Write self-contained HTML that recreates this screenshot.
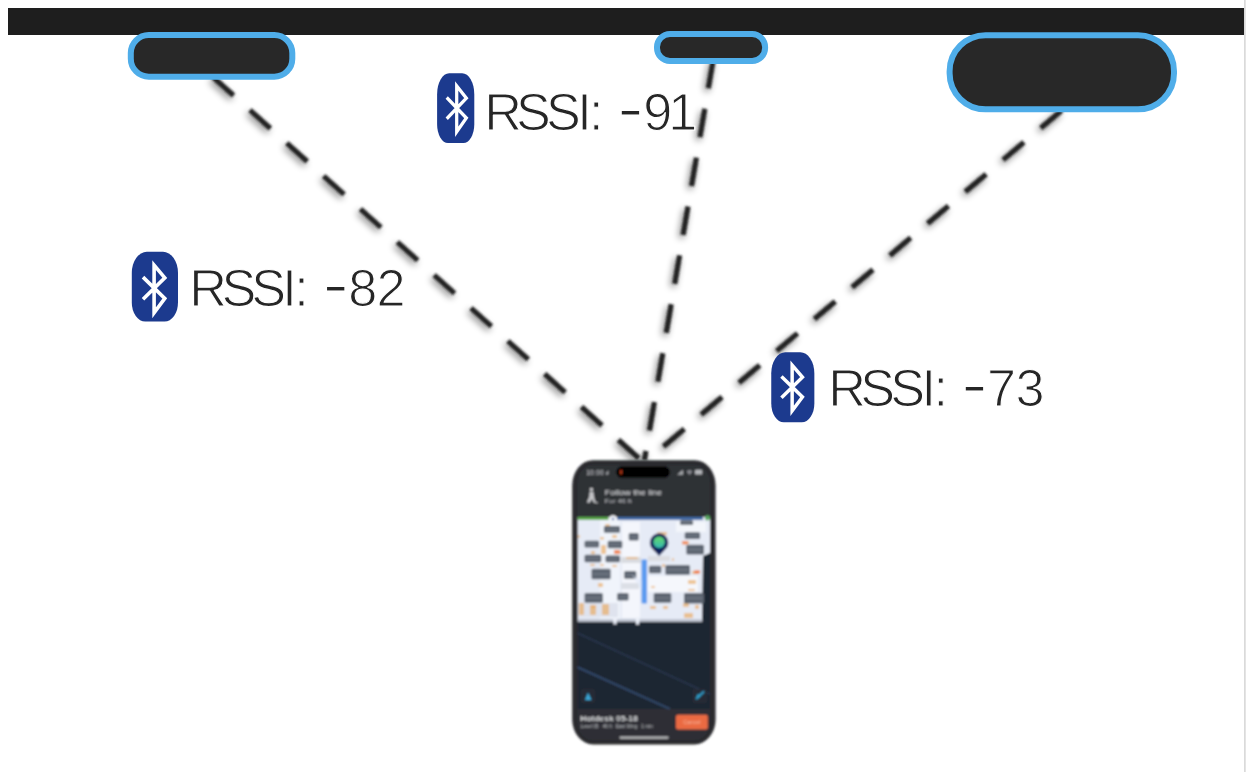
<!DOCTYPE html>
<html lang="en">
<head>
<meta charset="utf-8">
<title>RSSI trilateration</title>
<style>
html,body{margin:0;padding:0;background:#fff;width:1246px;height:772px;overflow:hidden}
svg{position:absolute;left:0;top:0;display:block}
.lbl{font-family:"Liberation Sans",sans-serif;font-size:52.2px;fill:#262626;stroke:#fff;stroke-width:1.15px;stroke-linejoin:round}
.hy{font-size:82.3px;stroke-width:2.76px;stroke-linejoin:miter}
.ph{font-family:"Liberation Sans",sans-serif}
</style>
</head>
<body>
<svg width="1246" height="772" viewBox="0 0 1246 772">
<defs>
  <filter id="ds" x="-20%" y="-20%" width="140%" height="140%">
    <feGaussianBlur in="SourceAlpha" stdDeviation="3.6" result="b"/>
    <feOffset in="b" dx="-2.5" dy="3" result="o"/>
    <feComponentTransfer in="o" result="s"><feFuncA type="linear" slope="0.5"/></feComponentTransfer>
    <feGaussianBlur in="SourceGraphic" stdDeviation="0.8" result="g"/>
    <feMerge><feMergeNode in="s"/><feMergeNode in="g"/></feMerge>
  </filter>
  <filter id="blur" x="-10%" y="-10%" width="120%" height="120%">
    <feGaussianBlur stdDeviation="1.05"/>
  </filter>
  <filter id="tb" x="-10%" y="-30%" width="120%" height="160%"><feGaussianBlur stdDeviation="0.55"/></filter>
  <clipPath id="scr"><rect x="577.5" y="465" width="132.5" height="275" rx="15" ry="18"/></clipPath>
  <linearGradient id="pg" x1="0" y1="0" x2="0" y2="1"><stop offset="0" stop-color="#63d96a"/><stop offset="1" stop-color="#35b9b4"/></linearGradient>
  <path id="bts" d="M15,0 L31.2,0 A15,21 0 0 1 46.2,21 L46.2,50.8 A13.5,19 0 0 1 32.7,69.8 L13.5,69.8 A13.5,19 0 0 1 0,50.8 L0,21 A15,21 0 0 1 15,0 Z" fill="#1c3a8e"/>
  <path id="btr" d="M11.2,25.3 L33,46.6 L22.3,61.1 L22.3,13.3 L33,26 L11.2,47.5" fill="none" stroke="#fff" stroke-width="3.6" stroke-miterlimit="10"/>
</defs>

<!-- right edge strip -->
<rect x="1244" y="0" width="1" height="772" fill="#dadada"/><rect x="1245" y="0" width="1" height="772" fill="#e4e4e4"/>

<!-- top bar -->
<rect x="8" y="8" width="1236" height="27" fill="#1e1e1e"/>

<!-- dashed links -->
<g filter="url(#ds)" stroke="#222" stroke-width="5.2" fill="none">
  <line x1="213.1" y1="77.2" x2="640" y2="459.4" stroke-dasharray="27.4 22.05"/>
  <line x1="713.2" y1="59.9" x2="644.4" y2="460" stroke-dasharray="28.8 20.8"/>
  <line x1="1061.6" y1="110.5" x2="646.6" y2="460.7" stroke-dasharray="27.2 22.17"/>
</g>

<!-- access points -->
<rect x="130.8" y="35" width="161.5" height="41.7" rx="18" fill="#282828" stroke="#4fade9" stroke-width="6"/>
<rect x="657" y="34" width="108.1" height="27" rx="13" fill="#282828" stroke="#4fade9" stroke-width="6"/>
<rect x="949.6" y="35.2" width="224.4" height="74.1" rx="36" fill="#282828" stroke="#4fade9" stroke-width="6"/>

<!-- labels -->
<g transform="translate(437.1,73.25)"><use href="#bts" transform="scale(0.805,1.0)"/><use href="#btr" transform="translate(-0.47,-0.07) scale(0.9,0.96)"/></g>
<text class="lbl" y="129.55" x="484.15 515.93 545.90 577.30 589.02 606.65">RSSI: <tspan class="hy" x="616.65" dy="5.83">-</tspan><tspan x="643.13 668.18" dy="-5.83">91</tspan></text>
<g transform="translate(131.8,251.8)"><use href="#bts" transform="scale(1,1)"/><use href="#btr" transform="translate(0,0) scale(1,1)"/></g>
<text class="lbl" y="305.65" x="189.25 221.43 251.20 282.27 294.17 311.95">RSSI: <tspan class="hy" x="321.95" dy="5.63">-</tspan><tspan x="348.27 376.40" dy="-5.63">82</tspan></text>
<g transform="translate(771.25,352.25)"><use href="#bts" transform="scale(0.933,1.004)"/><use href="#btr" transform="translate(-0.6,0.17) scale(0.964,0.955)"/></g>
<text class="lbl" y="405.55" x="828.32 860.32 890.20 921.45 933.50 950.80">RSSI: <tspan class="hy" x="960.80" dy="5.65">-</tspan><tspan x="987.00 1015.60" dy="-5.65">73</tspan></text>

<!-- phone -->
<g id="phone" filter="url(#blur)">
  <rect x="572.2" y="460.2" width="143.4" height="284.2" rx="21" ry="25" fill="#2a2b2f"/>
  <g clip-path="url(#scr)">
  <rect x="574" y="462" width="140" height="281" fill="#2e3035"/>
  <rect x="577.5" y="517" width="132.5" height="104.6" fill="#e6ebf6"/>
  <rect x="600" y="519" width="20" height="100" fill="#f3f6fc" opacity=".8"/>
  <rect x="622" y="522" width="18" height="96" fill="#f5f7fd" opacity=".9"/>
  <rect x="648" y="576" width="50" height="16" fill="#f6f8fd" opacity=".9"/>
  <rect x="676" y="522" width="30" height="10" fill="#f4f7fc" opacity=".9"/>
  <rect x="578" y="603" width="40" height="14" fill="#dfe3ee"/>
  <rect x="621" y="557" width="20" height="6" fill="#d9dbe0"/>
  <rect x="621" y="583" width="18" height="6" fill="#dcdfe6"/>
  <rect x="648" y="556" width="22" height="5" fill="#dcdde2"/>
  <rect x="577.5" y="517" width="31" height="3" fill="#5aa848"/>
  <rect x="617" y="517" width="86" height="3" fill="#3f6aa6"/>
  <circle cx="613" cy="518.6" r="3.4" fill="#f4f6fa"/><circle cx="613" cy="519" r="1.3" fill="#5a78b0"/>
  <circle cx="707.5" cy="517.8" r="2.6" fill="#58a860"/>
  <path d="M703,556 L710,553 L710,622 L702,622 Z" fill="#1f2532"/>
  <rect x="605" y="524" width="5" height="2" rx="1" fill="#e9a450" opacity=".6"/>
  <rect x="600" y="537" width="4" height="2.5" rx="1" fill="#e9a450" opacity=".6"/>
  <rect x="612" y="535" width="5" height="3" rx="1" fill="#e9a450" opacity=".6"/>
  <rect x="591" y="551" width="4" height="3" rx="1" fill="#e9a450" opacity=".6"/>
  <rect x="601" y="545" width="5" height="9" rx="1" fill="#e9a450" opacity=".6"/>
  <rect x="615" y="551" width="6" height="3" rx="1" fill="#e9a450" opacity=".6"/>
  <rect x="590" y="564" width="5" height="2" rx="1" fill="#e9a450" opacity=".6"/>
  <rect x="600" y="564" width="4" height="2" rx="1" fill="#e9a450" opacity=".6"/>
  <rect x="612" y="565" width="5" height="2" rx="1" fill="#e9a450" opacity=".6"/>
  <rect x="598" y="583" width="5" height="4" rx="1" fill="#e9a450" opacity=".6"/>
  <rect x="626" y="557" width="12" height="2" rx="1" fill="#e9a450" opacity=".6"/>
  <rect x="653" y="548" width="3" height="3" rx="1" fill="#e9a450" opacity=".6"/>
  <rect x="657" y="532" width="10" height="3" rx="1" fill="#e9a450" opacity=".6"/>
  <rect x="662" y="564" width="3" height="3" rx="1" fill="#e9a450" opacity=".6"/>
  <rect x="692" y="571" width="6" height="3" rx="1" fill="#e9a450" opacity=".6"/>
  <rect x="688" y="580" width="8" height="4" rx="1" fill="#e9a450" opacity=".6"/>
  <rect x="688" y="589" width="7" height="2" rx="1" fill="#e9a450" opacity=".6"/>
  <rect x="651" y="586" width="4" height="2" rx="1" fill="#e9a450" opacity=".6"/>
  <rect x="683" y="603" width="6" height="4" rx="1" fill="#e9a450" opacity=".6"/>
  <rect x="695" y="605" width="4" height="4" rx="1" fill="#e9a450" opacity=".6"/>
  <rect x="650" y="606" width="6" height="3" rx="1" fill="#e9a450" opacity=".6"/>
  <rect x="663" y="606" width="5" height="3" rx="1" fill="#e9a450" opacity=".6"/>
  <rect x="684" y="613" width="9" height="5" rx="1" fill="#e9a450" opacity=".6"/>
  <rect x="579" y="603" width="5" height="12" rx="1" fill="#e9a450" opacity=".6"/>
  <rect x="590" y="605" width="6" height="10" rx="1" fill="#e9a450" opacity=".6"/>
  <rect x="602" y="604" width="7" height="11" rx="1" fill="#e9a450" opacity=".6"/>
  <rect x="591" y="606" width="5" height="2" rx="1" fill="#e9a450" opacity=".6"/>
  <rect x="683" y="541" width="6" height="3" rx="1" fill="#e9a450" opacity=".6"/>
  <rect x="672" y="558" width="2" height="3" rx="1" fill="#e9a450" opacity=".6"/>
  <rect x="578" y="535" width="2" height="3" rx="1" fill="#e9a450" opacity=".6"/>
  <rect x="614" y="550" width="6" height="4" rx="1" fill="#f08a5a"/>
  <rect x="694" y="570.5" width="6" height="3" rx="1" fill="#f0783c"/>
  <rect x="682" y="541" width="6" height="3.5" rx="1" fill="#f09060"/>
  <rect x="603.9000000000001" y="526.0" width="16.1" height="6.8" rx="1.5" fill="#5b636f"/>
  <rect x="605.7" y="528.6" width="12.5" height="1.6" fill="#8e96a2" opacity=".4"/>
  <rect x="628.7" y="533.0" width="10.0" height="7.6" rx="1.5" fill="#5b636f"/>
  <rect x="630.5" y="536.0" width="6.4" height="1.6" fill="#8e96a2" opacity=".4"/>
  <rect x="584.5" y="540.7" width="14.6" height="6.8999999999999995" rx="1.5" fill="#5b636f"/>
  <rect x="586.3" y="543.35" width="11" height="1.6" fill="#8e96a2" opacity=".4"/>
  <rect x="607.7" y="540.7" width="14.6" height="7.6" rx="1.5" fill="#5b636f"/>
  <rect x="609.5" y="543.7" width="11" height="1.6" fill="#8e96a2" opacity=".4"/>
  <rect x="584.5" y="554.7" width="16.8" height="7.6" rx="1.5" fill="#5b636f"/>
  <rect x="586.3" y="557.7" width="13.2" height="1.6" fill="#8e96a2" opacity=".4"/>
  <rect x="605.5" y="555.6" width="14.5" height="6.699999999999999" rx="1.5" fill="#5b636f"/>
  <rect x="607.3" y="558.15" width="10.9" height="1.6" fill="#8e96a2" opacity=".4"/>
  <rect x="591.5" y="568.7" width="19.200000000000003" height="10.6" rx="1.5" fill="#5b636f"/>
  <rect x="593.3" y="573.2" width="15.600000000000001" height="1.6" fill="#8e96a2" opacity=".4"/>
  <rect x="624.1" y="571.1" width="12.2" height="7.6" rx="1.5" fill="#5b636f"/>
  <rect x="625.9" y="574.1" width="8.6" height="1.6" fill="#8e96a2" opacity=".4"/>
  <rect x="584.5" y="592.9000000000001" width="18.400000000000002" height="9.9" rx="1.5" fill="#5b636f"/>
  <rect x="586.3" y="597.0500000000001" width="14.8" height="1.6" fill="#8e96a2" opacity=".4"/>
  <rect x="617.1" y="592.9000000000001" width="11.5" height="7.6" rx="1.5" fill="#5b636f"/>
  <rect x="618.9" y="595.9000000000001" width="7.9" height="1.6" fill="#8e96a2" opacity=".4"/>
  <rect x="649.0" y="565.7" width="12.299999999999999" height="7.6" rx="1.5" fill="#5b636f"/>
  <rect x="650.8" y="568.7" width="8.7" height="1.6" fill="#8e96a2" opacity=".4"/>
  <rect x="665.3000000000001" y="564.9000000000001" width="24.700000000000003" height="9.9" rx="1.5" fill="#5b636f"/>
  <rect x="667.1" y="569.0500000000001" width="21.1" height="1.6" fill="#8e96a2" opacity=".4"/>
  <rect x="653.7" y="592.9000000000001" width="17.6" height="9.9" rx="1.5" fill="#5b636f"/>
  <rect x="655.5" y="597.0500000000001" width="14" height="1.6" fill="#8e96a2" opacity=".4"/>
  <rect x="684.0" y="592.9000000000001" width="20.0" height="10.7" rx="1.5" fill="#5b636f"/>
  <rect x="685.8" y="597.45" width="16.4" height="1.6" fill="#8e96a2" opacity=".4"/>
  <rect x="684.7" y="532.2" width="15.4" height="6.8999999999999995" rx="1.5" fill="#5b636f"/>
  <rect x="686.5" y="534.85" width="11.8" height="1.6" fill="#8e96a2" opacity=".4"/>
  <rect x="686.3000000000001" y="544.7" width="17.700000000000003" height="9.9" rx="1.5" fill="#5b636f"/>
  <rect x="688.1" y="548.85" width="14.100000000000001" height="1.6" fill="#8e96a2" opacity=".4"/>
  <rect x="680.1" y="520.2" width="13.0" height="4.8999999999999995" rx="1.5" fill="#5b636f"/>
  <rect x="681.9" y="521.85" width="9.4" height="1.6" fill="#8e96a2" opacity=".4"/>
  <rect x="641.5" y="559.5" width="5.5" height="44" rx="1" fill="#5b9bf0"/>
  <path d="M641.5,590 L632,575 L641.5,580 Z" fill="#dfe8f8" opacity=".6"/>
  <path d="M659.1,556 L653,549.6 A9.3,9.3 0 1 1 665.2,549.6 Z" fill="#10245a"/>
  <circle cx="659.1" cy="542.3" r="5.7" fill="url(#pg)"/>
  <rect x="577.5" y="619" width="125" height="3" fill="#aab0c0" opacity=".6"/>
  <rect x="613.2" y="617" width="3.6" height="6.5" fill="#eef2fa"/><rect x="635.8" y="617" width="3.6" height="6.5" fill="#eef2fa"/>
  <rect x="574" y="622" width="140" height="87" fill="#1f2532"/>
  <rect x="613.4" y="621" width="3.2" height="3.4" fill="#e6ebf6"/><rect x="636" y="621" width="3.2" height="3.6" fill="#e6ebf6"/>
  <line x1="576" y1="632.5" x2="712" y2="695" stroke="#2c3d58" stroke-width="1.2"/>
  <line x1="576" y1="666.5" x2="670" y2="709" stroke="#344c70" stroke-width="1.8"/>
  <rect x="581" y="689" width="14" height="14" rx="2" fill="#262b35"/>
  <path d="M585,700 L588,692.5 L591.5,700 Z" fill="#3aa7d8"/>
  <rect x="692.5" y="689" width="14.5" height="14" rx="2" fill="#262c36"/>
  <path d="M696,699 L704,691.5" stroke="#2e9cc9" stroke-width="1.8" fill="none"/><circle cx="698.5" cy="696" r="1.8" fill="#2e9cc9"/>
  <rect x="574" y="709" width="140" height="36" fill="#2d2f34"/>
  <rect x="676" y="714.8" width="31.8" height="14.6" rx="2" fill="#ea6a42"/>
  <text class="ph" filter="url(#tb)" x="691.9" y="724.2" text-anchor="middle" font-size="5.6" fill="#f8b49a">Cancel</text>
  <text class="ph" filter="url(#tb)" x="580.3" y="721.4" font-size="7.4" font-weight="bold" fill="#d9dadc" textLength="57.5" lengthAdjust="spacingAndGlyphs">Hotdesk 05-18</text>
  <text class="ph" filter="url(#tb)" x="580.8" y="727.8" font-size="4.6" fill="#c4c6ca" textLength="72" lengthAdjust="spacingAndGlyphs">Level 05 · 46 ft · East Wing · 1 min</text>
  <rect x="619.4" y="736.4" width="49.3" height="2.3" rx="1.15" fill="#b9babc"/>
  <rect x="616.3" y="466.3" width="53.6" height="11.7" rx="5.85" fill="#000"/>
  <rect x="620" y="469.8" width="2.2" height="4.8" rx="1.1" fill="#a83418"/>
  <text class="ph" filter="url(#tb)" x="586.3" y="474.8" font-size="6.6" font-weight="bold" fill="#a9abaf" textLength="17.5" lengthAdjust="spacingAndGlyphs">10:00</text>
  <path d="M605.4,474.4 L608.4,470 L608.4,474.4 Z" fill="#a9abaf"/>
  <path d="M677,474.8 L683,474.8 L683,469.8 Z" fill="#a6a8ac"/>
  <path d="M686.5,471.5 Q689.5,468.5 692.5,471.5 L689.5,475 Z" fill="#85878c"/>
  <rect x="695" y="469.8" width="7.2" height="4.8" rx="1.2" fill="#b4b6ba"/>
  <circle cx="591.4" cy="489.4" r="1.7" fill="#c8c9cc"/>
  <path d="M589.6,491.8 L593.4,491.8 L594,497 L595.4,501.8 L598,502.6 L597.6,503.6 L593.6,502.6 L592,499 L589.6,502.8 L586.8,502.4 L589.2,497 Z" fill="#c4c5c8"/>
  <text class="ph" filter="url(#tb)" x="604.8" y="495.4" font-size="8" fill="#e6e7e9" textLength="57.3" lengthAdjust="spacingAndGlyphs">Follow the line</text>
  <text class="ph" filter="url(#tb)" x="604.8" y="502.6" font-size="5.6" fill="#c2c4c8" textLength="27" lengthAdjust="spacingAndGlyphs">For 46 ft</text>
  </g>
</g>
</svg>
</body>
</html>
